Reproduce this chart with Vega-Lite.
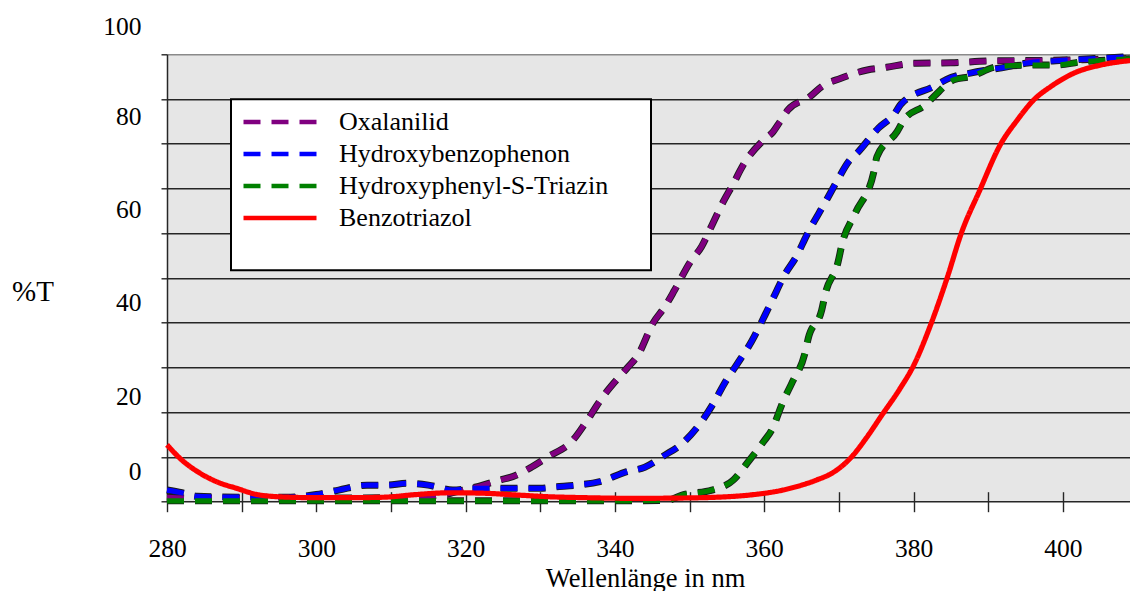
{
  "$schema": "https://vega.github.io/schema/vega-lite/v6.json",
  "width": 963,
  "height": 447.4,
  "autosize": {"type": "none"},
  "padding": {"left": 167, "top": 54.3, "right": 0, "bottom": 89.3},
  "background": "white",
  "config": {"view": {"fill": "#e6e6e6", "stroke": null}, "font": "Liberation Serif"},
  "data": {"values": [
    {"series": "Oxalanilid", "nm": 280, "T": 1.0}, {"series": "Oxalanilid", "nm": 284, "T": 0.8}, {"series": "Oxalanilid", "nm": 290, "T": 0.8}, {"series": "Oxalanilid", "nm": 300, "T": 0.8}, {"series": "Oxalanilid", "nm": 310, "T": 0.9}, {"series": "Oxalanilid", "nm": 315, "T": 1.2}, {"series": "Oxalanilid", "nm": 318, "T": 1.9}, {"series": "Oxalanilid", "nm": 320, "T": 2.7}, {"series": "Oxalanilid", "nm": 322.3, "T": 3.7}, {"series": "Oxalanilid", "nm": 324.5, "T": 4.8}, {"series": "Oxalanilid", "nm": 326.3, "T": 5.6}, {"series": "Oxalanilid", "nm": 328.8, "T": 7.7}, {"series": "Oxalanilid", "nm": 331, "T": 10}, {"series": "Oxalanilid", "nm": 334.4, "T": 13.8}, {"series": "Oxalanilid", "nm": 336.1, "T": 17.7}, {"series": "Oxalanilid", "nm": 338.4, "T": 23.5}, {"series": "Oxalanilid", "nm": 340, "T": 26.8}, {"series": "Oxalanilid", "nm": 341.6, "T": 29.8}, {"series": "Oxalanilid", "nm": 343.1, "T": 32.8}, {"series": "Oxalanilid", "nm": 345.1, "T": 39.9}, {"series": "Oxalanilid", "nm": 346.7, "T": 43.6}, {"series": "Oxalanilid", "nm": 348, "T": 47.3}, {"series": "Oxalanilid", "nm": 350.1, "T": 53.6}, {"series": "Oxalanilid", "nm": 351.6, "T": 57}, {"series": "Oxalanilid", "nm": 353, "T": 61.8}, {"series": "Oxalanilid", "nm": 354.5, "T": 67}, {"series": "Oxalanilid", "nm": 355.9, "T": 71.2}, {"series": "Oxalanilid", "nm": 357.2, "T": 75.3}, {"series": "Oxalanilid", "nm": 359.9, "T": 80.8}, {"series": "Oxalanilid", "nm": 361.2, "T": 82.7}, {"series": "Oxalanilid", "nm": 362.1, "T": 84.9}, {"series": "Oxalanilid", "nm": 363.2, "T": 87.6}, {"series": "Oxalanilid", "nm": 366.1, "T": 90.5}, {"series": "Oxalanilid", "nm": 367.7, "T": 92.8}, {"series": "Oxalanilid", "nm": 370.2, "T": 94.6}, {"series": "Oxalanilid", "nm": 373.8, "T": 96.5}, {"series": "Oxalanilid", "nm": 376.4, "T": 97.1}, {"series": "Oxalanilid", "nm": 380, "T": 98}, {"series": "Oxalanilid", "nm": 385, "T": 98.1}, {"series": "Oxalanilid", "nm": 390, "T": 98.5}, {"series": "Oxalanilid", "nm": 395, "T": 98.6}, {"series": "Oxalanilid", "nm": 400, "T": 98.7}, {"series": "Oxalanilid", "nm": 405, "T": 98.9}, {"series": "Oxalanilid", "nm": 409, "T": 99},
    {"series": "Hydroxybenzophenon", "nm": 280, "T": 2.6}, {"series": "Hydroxybenzophenon", "nm": 282, "T": 2.0}, {"series": "Hydroxybenzophenon", "nm": 284, "T": 1.2}, {"series": "Hydroxybenzophenon", "nm": 290, "T": 1.0}, {"series": "Hydroxybenzophenon", "nm": 296, "T": 1.0}, {"series": "Hydroxybenzophenon", "nm": 300, "T": 1.6}, {"series": "Hydroxybenzophenon", "nm": 303, "T": 2.6}, {"series": "Hydroxybenzophenon", "nm": 306.8, "T": 3.7}, {"series": "Hydroxybenzophenon", "nm": 309.4, "T": 3.7}, {"series": "Hydroxybenzophenon", "nm": 312.1, "T": 4.1}, {"series": "Hydroxybenzophenon", "nm": 315, "T": 3.7}, {"series": "Hydroxybenzophenon", "nm": 318.3, "T": 2.6}, {"series": "Hydroxybenzophenon", "nm": 321, "T": 3.0}, {"series": "Hydroxybenzophenon", "nm": 325, "T": 3.0}, {"series": "Hydroxybenzophenon", "nm": 330, "T": 3.0}, {"series": "Hydroxybenzophenon", "nm": 332, "T": 3.3}, {"series": "Hydroxybenzophenon", "nm": 335, "T": 3.7}, {"series": "Hydroxybenzophenon", "nm": 338, "T": 4.5}, {"series": "Hydroxybenzophenon", "nm": 341.6, "T": 6.7}, {"series": "Hydroxybenzophenon", "nm": 344, "T": 7.7}, {"series": "Hydroxybenzophenon", "nm": 346.7, "T": 10.4}, {"series": "Hydroxybenzophenon", "nm": 349, "T": 13}, {"series": "Hydroxybenzophenon", "nm": 351.6, "T": 17.9}, {"series": "Hydroxybenzophenon", "nm": 353.2, "T": 22}, {"series": "Hydroxybenzophenon", "nm": 354.8, "T": 26.8}, {"series": "Hydroxybenzophenon", "nm": 356.3, "T": 30.6}, {"series": "Hydroxybenzophenon", "nm": 358.3, "T": 35.8}, {"series": "Hydroxybenzophenon", "nm": 360.1, "T": 41.7}, {"series": "Hydroxybenzophenon", "nm": 361.2, "T": 45.5}, {"series": "Hydroxybenzophenon", "nm": 362.6, "T": 50.3}, {"series": "Hydroxybenzophenon", "nm": 364.4, "T": 55.1}, {"series": "Hydroxybenzophenon", "nm": 365.7, "T": 59.6}, {"series": "Hydroxybenzophenon", "nm": 368.2, "T": 67}, {"series": "Hydroxybenzophenon", "nm": 369.7, "T": 71.5}, {"series": "Hydroxybenzophenon", "nm": 371.3, "T": 76}, {"series": "Hydroxybenzophenon", "nm": 372.6, "T": 78.2}, {"series": "Hydroxybenzophenon", "nm": 375.3, "T": 83.5}, {"series": "Hydroxybenzophenon", "nm": 377.3, "T": 86.4}, {"series": "Hydroxybenzophenon", "nm": 378.4, "T": 89}, {"series": "Hydroxybenzophenon", "nm": 382.7, "T": 92.8}, {"series": "Hydroxybenzophenon", "nm": 385, "T": 94.8}, {"series": "Hydroxybenzophenon", "nm": 387.6, "T": 95.8}, {"series": "Hydroxybenzophenon", "nm": 392.5, "T": 97.2}, {"series": "Hydroxybenzophenon", "nm": 395, "T": 98}, {"series": "Hydroxybenzophenon", "nm": 400.6, "T": 98.7}, {"series": "Hydroxybenzophenon", "nm": 405, "T": 99.1}, {"series": "Hydroxybenzophenon", "nm": 409, "T": 99.5},
    {"series": "Hydroxyphenyl-S-Triazin", "nm": 280, "T": 0.2}, {"series": "Hydroxyphenyl-S-Triazin", "nm": 290, "T": 0.2}, {"series": "Hydroxyphenyl-S-Triazin", "nm": 300, "T": 0.2}, {"series": "Hydroxyphenyl-S-Triazin", "nm": 310, "T": 0.2}, {"series": "Hydroxyphenyl-S-Triazin", "nm": 320, "T": 0.2}, {"series": "Hydroxyphenyl-S-Triazin", "nm": 330, "T": 0.2}, {"series": "Hydroxyphenyl-S-Triazin", "nm": 340, "T": 0.2}, {"series": "Hydroxyphenyl-S-Triazin", "nm": 347, "T": 0.3}, {"series": "Hydroxyphenyl-S-Triazin", "nm": 349, "T": 1.5}, {"series": "Hydroxyphenyl-S-Triazin", "nm": 353, "T": 2.6}, {"series": "Hydroxyphenyl-S-Triazin", "nm": 355.9, "T": 4.9}, {"series": "Hydroxyphenyl-S-Triazin", "nm": 357.7, "T": 8.6}, {"series": "Hydroxyphenyl-S-Triazin", "nm": 359.9, "T": 13.4}, {"series": "Hydroxyphenyl-S-Triazin", "nm": 361, "T": 16}, {"series": "Hydroxyphenyl-S-Triazin", "nm": 362.6, "T": 22.7}, {"series": "Hydroxyphenyl-S-Triazin", "nm": 363.7, "T": 26.5}, {"series": "Hydroxyphenyl-S-Triazin", "nm": 365.5, "T": 33.5}, {"series": "Hydroxyphenyl-S-Triazin", "nm": 365.9, "T": 36.5}, {"series": "Hydroxyphenyl-S-Triazin", "nm": 367.7, "T": 42.8}, {"series": "Hydroxyphenyl-S-Triazin", "nm": 368.2, "T": 46.6}, {"series": "Hydroxyphenyl-S-Triazin", "nm": 369.9, "T": 53.6}, {"series": "Hydroxyphenyl-S-Triazin", "nm": 370.4, "T": 57.4}, {"series": "Hydroxyphenyl-S-Triazin", "nm": 372.2, "T": 64.5}, {"series": "Hydroxyphenyl-S-Triazin", "nm": 374.7, "T": 73.8}, {"series": "Hydroxyphenyl-S-Triazin", "nm": 375.1, "T": 77.1}, {"series": "Hydroxyphenyl-S-Triazin", "nm": 377.8, "T": 82.7}, {"series": "Hydroxyphenyl-S-Triazin", "nm": 378.7, "T": 85.3}, {"series": "Hydroxyphenyl-S-Triazin", "nm": 381.6, "T": 88.7}, {"series": "Hydroxyphenyl-S-Triazin", "nm": 382.7, "T": 90.5}, {"series": "Hydroxyphenyl-S-Triazin", "nm": 385.4, "T": 94.3}, {"series": "Hydroxyphenyl-S-Triazin", "nm": 387.6, "T": 95}, {"series": "Hydroxyphenyl-S-Triazin", "nm": 391.2, "T": 97.2}, {"series": "Hydroxyphenyl-S-Triazin", "nm": 396.5, "T": 97.6}, {"series": "Hydroxyphenyl-S-Triazin", "nm": 399, "T": 97.6}, {"series": "Hydroxyphenyl-S-Triazin", "nm": 402.5, "T": 98.3}, {"series": "Hydroxyphenyl-S-Triazin", "nm": 405, "T": 98.6}, {"series": "Hydroxyphenyl-S-Triazin", "nm": 409, "T": 99},
    {"series": "Benzotriazol", "nm": 280, "T": 12.7}, {"series": "Benzotriazol", "nm": 282, "T": 9.3}, {"series": "Benzotriazol", "nm": 284.4, "T": 6.4}, {"series": "Benzotriazol", "nm": 286.6, "T": 4.5}, {"series": "Benzotriazol", "nm": 289.3, "T": 3.0}, {"series": "Benzotriazol", "nm": 292.4, "T": 1.5}, {"series": "Benzotriazol", "nm": 296.4, "T": 1.0}, {"series": "Benzotriazol", "nm": 300, "T": 0.9}, {"series": "Benzotriazol", "nm": 305, "T": 0.9}, {"series": "Benzotriazol", "nm": 309, "T": 1.0}, {"series": "Benzotriazol", "nm": 313.4, "T": 1.6}, {"series": "Benzotriazol", "nm": 317.9, "T": 2.0}, {"series": "Benzotriazol", "nm": 322.3, "T": 1.9}, {"series": "Benzotriazol", "nm": 326.8, "T": 1.5}, {"series": "Benzotriazol", "nm": 331.3, "T": 1.1}, {"series": "Benzotriazol", "nm": 336, "T": 0.9}, {"series": "Benzotriazol", "nm": 342.4, "T": 0.75}, {"series": "Benzotriazol", "nm": 348, "T": 0.8}, {"series": "Benzotriazol", "nm": 353.6, "T": 1.0}, {"series": "Benzotriazol", "nm": 358.1, "T": 1.5}, {"series": "Benzotriazol", "nm": 362.5, "T": 2.6}, {"series": "Benzotriazol", "nm": 365, "T": 3.7}, {"series": "Benzotriazol", "nm": 367.1, "T": 4.9}, {"series": "Benzotriazol", "nm": 369.2, "T": 6.5}, {"series": "Benzotriazol", "nm": 371.7, "T": 10}, {"series": "Benzotriazol", "nm": 373.7, "T": 14.3}, {"series": "Benzotriazol", "nm": 375.7, "T": 19.2}, {"series": "Benzotriazol", "nm": 378.2, "T": 25.3}, {"series": "Benzotriazol", "nm": 380, "T": 30.4}, {"series": "Benzotriazol", "nm": 382.4, "T": 40}, {"series": "Benzotriazol", "nm": 384.5, "T": 50}, {"series": "Benzotriazol", "nm": 386.4, "T": 60}, {"series": "Benzotriazol", "nm": 388.9, "T": 69.7}, {"series": "Benzotriazol", "nm": 391.6, "T": 79.7}, {"series": "Benzotriazol", "nm": 393.9, "T": 85.3}, {"series": "Benzotriazol", "nm": 396.1, "T": 89.8}, {"series": "Benzotriazol", "nm": 398.4, "T": 92.8}, {"series": "Benzotriazol", "nm": 401.5, "T": 95.8}, {"series": "Benzotriazol", "nm": 405.1, "T": 97.6}, {"series": "Benzotriazol", "nm": 409, "T": 98.6}
  ]},
  "encoding": {
    "x": {
      "field": "nm", "type": "quantitative",
      "scale": {"domain": [280, 409], "nice": false, "zero": false},
      "axis": {
        "values": [280, 290, 300, 310, 320, 330, 340, 350, 360, 370, 380, 390, 400],
        "offset": -10, "domain": false, "grid": false,
        "tickSize": 20, "tickColor": "#262626", "tickWidth": 1.4,
        "labelExpr": "datum.value % 20 == 0 ? datum.label : ''",
        "labelFont": "Liberation Serif", "labelFontSize": 25.5, "labelColor": "black",
        "labelPadding": 25, "labelFlush": false, "labelOverlap": false,
        "title": "Wellenlänge in nm", "titleFont": "Liberation Serif", "titleFontSize": 26.5,
        "titleFontWeight": "normal", "titleColor": "black",
        "titleX": 478, "titleY": 94.3, "titleAlign": "center", "titleBaseline": "alphabetic"
      }
    },
    "y": {
      "field": "T", "type": "quantitative",
      "scale": {"domain": [0, 100], "nice": false, "zero": false},
      "axis": {
        "values": [0, 10, 20, 30, 40, 50, 60, 70, 80, 90, 100],
        "grid": true,
        "gridColor": {"condition": {"test": "datum.value == 100", "value": "#8a8a8a"}, "value": "#262626"},
        "gridWidth": 1.4,
        "domainColor": "#262626", "domainWidth": 1.5,
        "tickColor": "#262626", "tickSize": 6, "tickWidth": 1.4,
        "labelExpr": "datum.value % 20 == 0 ? datum.label : ''",
        "labelFont": "Liberation Serif", "labelFontSize": 25.5, "labelColor": "black",
        "labelPadding": 20, "labelFlush": false, "labelOverlap": false, "labelBound": false,
        "labelOffset": {"condition": [
          {"test": "datum.value == 0", "value": -30},
          {"test": "datum.value == 20", "value": -15.5},
          {"test": "datum.value == 40", "value": -20},
          {"test": "datum.value == 60", "value": -23.3},
          {"test": "datum.value == 80", "value": -26.8}
        ], "value": -28.3},
        "title": "%T", "titleAngle": 0, "titleFont": "Liberation Serif", "titleFontSize": 29,
        "titleFontWeight": "normal", "titleColor": "black",
        "titleX": -134.5, "titleY": 237, "titleAlign": "center", "titleBaseline": "middle"
      }
    }
  },
  "layer": [
    {
      "transform": [{"filter": "datum.series != 'Benzotriazol'"}],
      "mark": {"type": "line", "color": "#1a1a1a", "strokeWidth": 7, "strokeDash": [17, 11], "interpolate": "monotone", "strokeCap": "butt"},
      "encoding": {"detail": {"field": "series", "type": "nominal"}}
    },
    {
      "mark": {"type": "line", "strokeWidth": 5.2, "interpolate": "monotone", "strokeCap": "butt"},
      "encoding": {
        "color": {
          "field": "series", "type": "nominal",
          "scale": {"domain": ["Oxalanilid", "Hydroxybenzophenon", "Hydroxyphenyl-S-Triazin", "Benzotriazol"], "range": ["#800080", "#0000ff", "#008000", "#ff0000"]},
          "legend": {
            "orient": "none", "legendX": 64, "legendY": 45,
            "title": "________________________________________",
            "titleOrient": "bottom", "titleFontSize": 20, "titlePadding": 9, "titleFont": "Liberation Serif", "titleOpacity": 0, "titleLimit": 600,
            "padding": 10, "strokeColor": "black", "fillColor": "white",
            "symbolType": "stroke", "symbolSize": 5329, "symbolStrokeWidth": 4.5, "clipHeight": 25.5,
            "labelFont": "Liberation Serif", "labelFontSize": 26, "labelColor": "black",
            "labelOffset": 20, "labelLimit": 400, "rowPadding": 5,
            "encode": {"legend": {"update": {"strokeWidth": {"value": 2}}}}
          }
        },
        "strokeDash": {
          "field": "series", "type": "nominal",
          "scale": {"domain": ["Oxalanilid", "Hydroxybenzophenon", "Hydroxyphenyl-S-Triazin", "Benzotriazol"], "range": [[17, 11], [17, 11], [17, 11], [1, 0]]},
          "legend": {
            "orient": "none", "legendX": 64, "legendY": 45,
            "title": "________________________________________",
            "titleOrient": "bottom", "titleFontSize": 20, "titlePadding": 9, "titleFont": "Liberation Serif", "titleOpacity": 0, "titleLimit": 600,
            "padding": 10, "strokeColor": "black", "fillColor": "white",
            "symbolType": "stroke", "symbolSize": 5329, "symbolStrokeWidth": 4.5, "clipHeight": 25.5,
            "labelFont": "Liberation Serif", "labelFontSize": 26, "labelColor": "black",
            "labelOffset": 20, "labelLimit": 400, "rowPadding": 5,
            "encode": {"legend": {"update": {"strokeWidth": {"value": 2}}}}
          }
        }
      }
    }
  ]
}
